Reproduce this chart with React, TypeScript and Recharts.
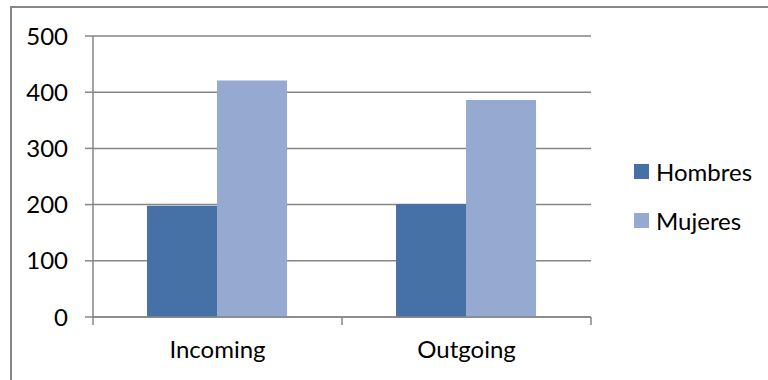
import React from 'react';
import { BarChart, Bar, XAxis, YAxis, CartesianGrid, Legend } from 'recharts';

const categories = ['Incoming', 'Outgoing'];
const hombres = [198, 201];
const mujeres = [421, 386];
const yTicks = [0, 100, 200, 300, 400, 500];

const data = categories.map((name, i) => ({ name, Hombres: hombres[i], Mujeres: mujeres[i] }));

const FONT = 'Lato, "Open Sans", sans-serif';
const FS = 24;
const AXIS = '#868686';
const COLORS = { Hombres: '#4571a6', Mujeres: '#95a9d1' };
const TICK_SIZE = 8;
const TICK_MARGIN = 16;

// category label plus Excel-style tick marks on the band edges
function CategoryTick(props: any) {
  const { x, y, payload, index, visibleTicksCount } = props;
  const half = payload.offset || 0;
  const y0 = y - TICK_MARGIN - TICK_SIZE;
  const y1 = y - TICK_MARGIN;
  return (
    <g>
      <line x1={x - half} x2={x - half} y1={y0} y2={y1} stroke={AXIS} strokeWidth={1.5} />
      {index === visibleTicksCount - 1 && (
        <line x1={x + half} x2={x + half} y1={y0} y2={y1} stroke={AXIS} strokeWidth={1.5} />
      )}
      <text x={x} y={y} dy="0.71em" textAnchor="middle" fill="#000" fontSize={FS} fontFamily={FONT}>
        {payload.value}
      </text>
    </g>
  );
}

function LegendBox() {
  return (
    <div style={{ fontFamily: FONT, fontSize: FS, color: '#000' }}>
      {(['Hombres', 'Mujeres'] as const).map((k) => (
        <div key={k} style={{ display: 'flex', alignItems: 'center', height: 24, marginBottom: 25 }}>
          <span style={{ width: 15, height: 15, background: COLORS[k], display: 'inline-block', marginRight: 7 }} />
          <span>{k}</span>
        </div>
      ))}
    </div>
  );
}

export default function App() {
  return (
    <div style={{ position: 'absolute', left: 0, top: 0, width: 768, height: 380, overflow: 'hidden', background: '#fff' }}>
      <div
        style={{
          position: 'absolute',
          left: 10,
          top: 6,
          width: 800,
          height: 400,
          borderTop: `2px solid ${AXIS}`,
          borderLeft: `2px solid ${AXIS}`,
        }}
      />
      <div style={{ position: 'absolute', left: 0, top: 0 }}>
        <BarChart
          width={768}
          height={380}
          data={data}
          margin={{ top: 36, right: 177, bottom: 0, left: 0 }}
          barCategoryGap="21.7%"
          barGap={0}
        >
          <CartesianGrid vertical={false} stroke={AXIS} strokeWidth={1.5} />
          <XAxis
            dataKey="name"
            height={63}
            axisLine={{ stroke: AXIS, strokeWidth: 1.5 }}
            tickLine={false}
            tickSize={TICK_SIZE}
            tickMargin={TICK_MARGIN}
            tick={<CategoryTick />}
          />
          <YAxis
            domain={[0, 500]}
            ticks={yTicks}
            width={93}
            axisLine={{ stroke: AXIS, strokeWidth: 1.5 }}
            tickLine={{ stroke: AXIS, strokeWidth: 1.5 }}
            tickSize={8}
            tickMargin={17}
            tick={{ fill: '#000', fontSize: FS, fontFamily: FONT }}
          />
          <Legend
            layout="horizontal"
            align="center"
            verticalAlign="middle"
            wrapperStyle={{ left: 634, top: 159, width: 130 }}
            content={() => <LegendBox />}
          />
          <Bar dataKey="Hombres" fill={COLORS.Hombres} isAnimationActive={false} />
          <Bar dataKey="Mujeres" fill={COLORS.Mujeres} isAnimationActive={false} />
        </BarChart>
      </div>
    </div>
  );
}
